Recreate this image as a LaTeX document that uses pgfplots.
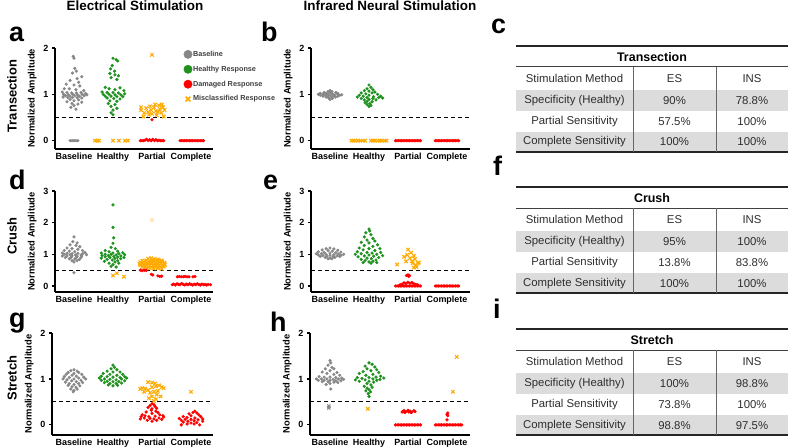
\documentclass[border=0pt]{standalone}
\usepackage{pgfplots}
\pgfplotsset{compat=1.18}
\usepackage{fontspec}
\setmainfont{Liberation Sans}

\definecolor{cgray}{RGB}{135,135,135}
\definecolor{cgreen}{RGB}{30,145,30}
\definecolor{cred}{RGB}{255,0,0}
\definecolor{corange}{RGB}{255,170,0}
\definecolor{tgray}{RGB}{220,220,220}
\definecolor{ttext}{RGB}{45,45,45}

\pgfplotsset{
  panel/.style={
    scale only axis,
    axis lines=left,
    axis line style={-, line width=1.5bp},
    xtick={0,1,2,3},
    xticklabels={Baseline,Healthy,Partial,Complete},
    xtick style={draw=none},
    ytick style={line width=1.2bp, black},
    tick align=outside,
    major tick length=3bp,
    tick label style={font=\bfseries\fontsize{9}{10}\selectfont},
    xticklabel style={yshift=3bp},
    /pgf/number format/assume math mode=true,
    ylabel={Normalized Amplitude},
    ylabel style={font=\bfseries\fontsize{9.4}{10}\selectfont},
    clip=false,
  },
  gdot/.style={only marks, mark=*, mark size=1.4bp, cgray},
  gndot/.style={only marks, mark=*, mark size=1.4bp, cgreen},
  rdot/.style={only marks, mark=*, mark size=1.4bp, cred},
  ox/.style={only marks, mark=x, mark size=2.4bp, corange, mark options={line width=1.1bp}},
  gx/.style={only marks, mark=x, mark size=2.2bp, cgray, mark options={line width=1.1bp}},
  dashline/.style={black, line width=1bp, dash pattern=on 4bp off 3bp},
}

% tabla: #1 = y de la regla superior (bp desde abajo)
\newcommand{\stab}[8]{%
\begin{scope}[shift={(0,#1)}]
  \fill[tgray] (516bp,-44bp) rectangle (788bp,-65bp);
  \fill[tgray] (516bp,-86bp) rectangle (788bp,-106bp);
  \draw[line width=1.6bp, black!85] (516bp,0) -- (788bp,0);
  \draw[line width=1.6bp, black!85] (516bp,-106bp) -- (788bp,-106bp);
  \draw[line width=1bp, black!75] (516bp,-21bp) -- (788bp,-21bp);
  \draw[line width=0.8bp, black!60] (633bp,-21bp) -- (633bp,-106bp);
  \draw[line width=0.8bp, black!60] (716bp,-21bp) -- (716bp,-106bp);
  \node[font=\bfseries\fontsize{12.5}{14}\selectfont, text=black] at (652bp,-11bp) {#2};
  \begin{scope}[every node/.style={font=\fontsize{11.4}{13}\selectfont, text=ttext}]
    \node at (574.5bp,-32.5bp) {Stimulation Method};
    \node at (674.5bp,-32.5bp) {ES};
    \node at (752bp,-32.5bp) {INS};
    \node at (574.5bp,-54.5bp) {Specificity (Healthy)};
    \node at (674.5bp,-54.5bp) {#3};
    \node at (752bp,-54.5bp) {#4};
    \node at (574.5bp,-75.5bp) {Partial Sensitivity};
    \node at (674.5bp,-75.5bp) {#5};
    \node at (752bp,-75.5bp) {#6};
    \node at (574.5bp,-96bp) {Complete Sensitivity};
    \node at (674.5bp,-96bp) {#7};
    \node at (752bp,-96bp) {#8};
  \end{scope}
\end{scope}}

\begin{document}
\begin{tikzpicture}
\path[use as bounding box] (0,0) rectangle (790bp,447bp);

% titulos de columna y filas
\node[font=\bfseries\fontsize{13.5}{15}\selectfont, anchor=base] at (135bp,436.5bp) {Electrical Stimulation};
\node[font=\bfseries\fontsize{13.5}{15}\selectfont, anchor=base] at (390bp,436.5bp) {Infrared Neural Stimulation};
\begin{scope}[every node/.style={font=\bfseries\fontsize{13}{15}\selectfont, rotate=90}]
  \node at (12bp,351bp) {Transection};
  \node at (12bp,211bp) {Crush};
  \node at (12bp,69bp) {Stretch};
\end{scope}
\begin{scope}[every node/.style={font=\bfseries\fontsize{27}{30}\selectfont, anchor=base west, inner sep=0pt}]
  \node at (9bp,405bp) {a};
  \node at (261bp,405bp) {b};
  \node at (491bp,413bp) {c};
  \node at (9bp,257bp) {d};
  \node at (263bp,257bp) {e};
  \node at (493bp,271bp) {f};
  \node at (9bp,119bp) {g};
  \node at (270bp,115bp) {h};
  \node at (493bp,128bp) {i};
\end{scope}

%% ---------------- a: ES, Transection ----------------
\begin{axis}[panel, at={(55bp,298bp)}, anchor=south west,
  width=158bp, height=101bp,
  xmin=-0.487, xmax=3.564, ymin=-0.18, ymax=2, ytick={0,1,2},
  legend style={at={(rel axis cs:0.795,1.0)}, anchor=north west, draw=none, fill=none,
    font=\bfseries\fontsize{7.3}{8}\selectfont, text=black!75, row sep=6.5bp,
    nodes={inner sep=0.8bp}},
  legend cell align=left,
  legend image code/.code={\draw[#1] plot coordinates {(0bp,0bp)};},
]
\addlegendimage{mark=*, mark size=4.2bp, cgray}
\addlegendentry{Baseline}
\addlegendimage{mark=*, mark size=4.2bp, cgreen}
\addlegendentry{Healthy Response}
\addlegendimage{mark=*, mark size=4.2bp, cred}
\addlegendentry{Damaged Response}
\addlegendimage{mark=x, mark size=3.4bp, corange, mark options={line width=1.6bp}}
\addlegendentry{Misclassified Response}

\addplot[dashline] coordinates {(-0.487,0.5) (3.564,0.5)};
\addplot[gdot] coordinates {
(-0.02,1.82)(0.00,1.78)(0.02,1.56)(0.06,1.50)(-0.04,1.46)(0.20,1.38)(0.08,1.34)(-0.10,1.30)
(0.12,1.26)(-0.20,1.22)(0.00,1.20)(0.15,1.18)(-0.25,1.12)(-0.12,1.12)(0.05,1.10)(0.25,1.08)
(-0.30,1.05)(-0.18,1.04)(-0.06,1.03)(0.06,1.03)(0.18,1.04)(0.30,1.02)(-0.27,1.00)(-0.15,0.99)
(-0.03,1.00)(0.09,0.99)(0.21,1.00)(0.33,0.99)(-0.22,0.97)(-0.10,0.96)(0.02,0.97)(0.14,0.96)
(0.26,0.97)(-0.28,0.94)(-0.16,0.93)(-0.04,0.93)(0.08,0.93)(0.20,0.92)(-0.10,0.89)(0.12,0.88)
(0.00,0.86)(-0.18,0.84)(0.20,0.83)(-0.05,0.80)(0.10,0.79)(0.00,0.76)(-0.08,0.72)(0.05,0.68)
(-0.10,0)(-0.05,0)(0.00,0)(0.05,0)(0.10,0)};
\addplot[gndot] coordinates {
(1.00,1.78)(1.08,1.75)(1.12,1.72)(0.98,1.62)(0.94,1.55)(1.04,1.50)(0.92,1.45)(1.05,1.42)
(1.14,1.40)(0.95,1.36)(1.10,1.32)(0.80,1.15)(1.18,1.14)(0.90,1.12)(1.05,1.10)(1.28,1.08)
(0.72,1.05)(0.85,1.04)(1.00,1.04)(1.14,1.03)(1.30,1.01)(0.75,1.00)(0.90,1.00)(1.05,0.99)
(1.20,0.99)(0.80,0.96)(0.95,0.96)(1.10,0.95)(1.25,0.95)(0.85,0.92)(1.02,0.91)(1.18,0.90)
(0.92,0.86)(1.10,0.85)(0.88,0.80)(1.05,0.78)(0.95,0.74)(1.10,0.70)(1.00,0.66)(0.95,0.60)(1.00,0.56)};
\addplot[rdot] coordinates {
(1.70,0)(1.74,0)(1.78,0)(1.82,0.01)(1.86,0.03)(1.90,0)(1.94,0.02)(1.98,0)(2.02,0.03)(2.06,0)
(2.10,0.02)(2.14,0)(2.18,0.01)(2.22,0)(2.26,0)(2.30,0)(2.00,0.45)
(2.72,0)(2.76,0)(2.80,0)(2.84,0)(2.88,0)(2.92,0)(2.96,0)(3.00,0)(3.04,0)(3.08,0)(3.12,0)
(3.16,0)(3.20,0)(3.24,0)(3.28,0)(3.32,0)};
\addplot[ox] coordinates {
(0.54,0)(0.60,0)(0.64,0)(1.00,0)(1.15,0)(1.31,0)(1.38,0)
(1.72,0.72)(1.72,0.66)(1.80,0.60)(1.85,0.70)(1.90,0.62)(1.92,0.56)(1.98,0.66)(2.00,0.58)
(2.05,0.72)(2.10,0.64)(2.12,0.55)(2.18,0.76)(2.20,0.68)(2.24,0.60)(2.28,0.72)(2.30,0.52)
(2.32,0.66)(1.78,0.52)(2.08,0.78)(2.15,0.62)(1.95,0.74)(2.25,0.78)(2.00,1.85)};
\end{axis}

%% ---------------- b: INS, Transection ----------------
\begin{axis}[panel, at={(311bp,298bp)}, anchor=south west,
  width=159bp, height=101bp,
  xmin=-0.487, xmax=3.59, ymin=-0.18, ymax=2, ytick={0,1,2}]
\addplot[dashline] coordinates {(-0.487,0.5) (3.59,0.5)};
\addplot[gdot] coordinates {
(0.00,1.08)(-0.05,1.06)(0.05,1.06)(-0.15,1.04)(0.00,1.04)(0.15,1.04)(-0.25,1.02)(-0.10,1.02)
(0.05,1.02)(0.20,1.02)(-0.30,1.00)(-0.18,1.00)(-0.05,1.00)(0.08,1.00)(0.20,1.00)(0.30,0.99)
(-0.25,0.98)(-0.12,0.98)(0.00,0.98)(0.12,0.98)(0.25,0.98)(-0.18,0.96)(-0.05,0.96)(0.08,0.96)
(0.20,0.96)(-0.10,0.94)(0.04,0.94)(0.14,0.94)(-0.03,0.92)(0.06,0.91)(0.00,0.89)};
\addplot[gndot] coordinates {
(1.00,1.20)(1.05,1.15)(0.95,1.12)(1.10,1.10)(0.88,1.08)(1.00,1.07)(1.15,1.05)(0.80,1.03)
(1.08,1.03)(0.92,1.01)(1.22,1.00)(0.75,0.98)(1.00,0.98)(1.30,0.96)(0.85,0.96)(1.12,0.95)
(0.70,0.94)(1.25,0.93)(0.95,0.93)(1.35,0.92)(0.80,0.91)(1.10,0.91)(1.00,0.89)(0.88,0.88)
(1.18,0.88)(0.95,0.85)(1.08,0.84)(0.90,0.82)(1.02,0.80)(0.95,0.78)(1.05,0.76)(1.00,0.74)};
\addplot[ox] coordinates {
(0.55,0)(0.60,0)(0.65,0)(0.72,0)(0.78,0)(0.84,0)(0.90,0)(1.05,0)(1.10,0)(1.15,0)
(1.22,0)(1.28,0)(1.33,0)(1.40,0)(1.45,0)};
\addplot[rdot] coordinates {
(1.68,0)(1.72,0)(1.76,0)(1.80,0)(1.84,0)(1.88,0)(1.92,0)(1.96,0)(2.00,0)(2.04,0)(2.08,0)
(2.12,0)(2.16,0)(2.20,0)(2.24,0)(2.28,0)(2.32,0)
(2.70,0)(2.74,0)(2.78,0)(2.82,0)(2.86,0)(2.90,0)(2.94,0)(2.98,0)(3.02,0)(3.06,0)(3.10,0)
(3.14,0)(3.18,0)(3.22,0)(3.26,0)(3.30,0)};
\end{axis}

%% ---------------- d: ES, Crush ----------------
\begin{axis}[panel, at={(55bp,155bp)}, anchor=south west,
  width=158bp, height=101bp,
  xmin=-0.487, xmax=3.564, ymin=-0.19, ymax=3, ytick={0,1,2,3}]
\addplot[dashline] coordinates {(-0.487,0.5) (3.564,0.5)};
\addplot[gdot] coordinates {
(0.00,1.55)(-0.03,1.40)(0.08,1.36)(-0.10,1.30)(0.05,1.28)(0.15,1.24)(-0.18,1.20)(-0.05,1.18)
(0.10,1.16)(-0.25,1.12)(0.22,1.12)(-0.12,1.10)(0.02,1.08)(0.28,1.06)(-0.30,1.04)(-0.18,1.03)
(-0.05,1.02)(0.10,1.03)(0.22,1.02)(-0.25,1.00)(-0.10,0.99)(0.04,0.98)(0.18,0.98)(0.32,0.99)
(-0.30,0.95)(-0.18,0.95)(-0.05,0.95)(0.08,0.94)(0.20,0.95)(-0.22,0.90)(-0.08,0.90)(0.06,0.90)
(0.18,0.90)(-0.12,0.86)(0.02,0.85)(0.14,0.84)(-0.05,0.80)(0.08,0.80)(0.00,0.76)(0.00,0.42)};
\addplot[gndot] coordinates {
(1.00,2.56)(1.00,1.85)(1.02,1.52)(1.00,1.35)(0.95,1.22)(1.06,1.18)(0.80,1.12)(1.12,1.10)
(0.90,1.08)(1.25,1.05)(0.70,1.04)(1.00,1.04)(1.15,1.02)(0.80,1.00)(0.95,1.00)(1.30,0.99)
(1.08,0.98)(0.72,0.96)(0.88,0.96)(1.20,0.95)(1.02,0.94)(0.80,0.92)(1.12,0.91)(1.28,0.90)
(0.92,0.90)(0.70,0.88)(1.05,0.87)(1.20,0.86)(0.85,0.84)(0.98,0.82)(1.12,0.80)(0.78,0.78)
(1.05,0.76)(0.90,0.72)(1.15,0.72)(1.00,0.68)(0.95,0.62)(1.08,0.60)};
\addplot[ox] coordinates {
(1.00,0.33)(1.10,0.40)(1.28,0.29)
(1.90,0.86)(2.05,0.85)(2.15,0.84)(1.98,0.88)
(1.75,0.80)(1.85,0.81)(1.95,0.80)(2.05,0.79)(2.15,0.80)(2.25,0.81)
(1.70,0.75)(1.78,0.76)(1.86,0.74)(1.94,0.75)(2.02,0.76)(2.10,0.74)(2.18,0.75)(2.26,0.76)(2.32,0.74)
(1.68,0.70)(1.76,0.71)(1.84,0.69)(1.92,0.70)(2.00,0.71)(2.08,0.69)(2.16,0.70)(2.24,0.71)(2.32,0.69)
(1.70,0.65)(1.78,0.64)(1.86,0.66)(1.94,0.65)(2.02,0.64)(2.10,0.66)(2.18,0.65)(2.26,0.64)(2.33,0.66)
(1.75,0.60)(1.83,0.61)(1.91,0.59)(1.99,0.60)(2.07,0.61)(2.15,0.59)(2.23,0.60)(2.30,0.61)
(1.85,0.55)(1.95,0.56)(2.05,0.55)(2.15,0.56)(2.25,0.54)};
\addplot[ox, opacity=0.35] coordinates {(2.00,2.08)};
\addplot[rdot] coordinates {
(1.70,0.50)(1.75,0.48)(1.80,0.50)(1.85,0.49)(1.98,0.37)(2.02,0.35)(2.15,0.32)(2.20,0.30)(2.25,0.31)
(2.52,0.04)(2.56,0.06)(2.60,0.03)(2.64,0.07)(2.68,0.05)(2.72,0.04)(2.76,0.08)(2.80,0.05)
(2.84,0.03)(2.88,0.06)(2.92,0.04)(2.96,0.07)(3.00,0.05)(3.04,0.03)(3.08,0.06)(3.12,0.04)
(3.16,0.07)(3.20,0.05)(3.24,0.03)(3.28,0.06)(3.32,0.04)(3.36,0.05)(3.40,0.03)(3.44,0.05)(3.50,0.04)
(2.65,0.29)(2.70,0.30)(2.75,0.29)(2.80,0.29)(2.85,0.30)(2.90,0.29)(2.95,0.29)(3.05,0.29)(3.10,0.30)};
\end{axis}

%% ---------------- e: INS, Crush ----------------
\begin{axis}[panel, at={(311bp,155bp)}, anchor=south west,
  width=159bp, height=101bp,
  xmin=-0.487, xmax=3.59, ymin=-0.19, ymax=3, ytick={0,1,2,3}]
\addplot[dashline] coordinates {(-0.487,0.5) (3.59,0.5)};
\addplot[gdot] coordinates {
(0.00,1.20)(-0.10,1.18)(0.10,1.17)(-0.20,1.14)(0.20,1.13)(-0.05,1.12)(0.06,1.10)(-0.30,1.08)
(0.28,1.07)(-0.15,1.06)(0.15,1.05)(0.00,1.04)(-0.35,1.02)(-0.22,1.02)(0.22,1.01)(0.35,1.00)
(-0.10,1.00)(0.10,0.99)(-0.30,0.98)(0.00,0.97)(0.28,0.97)(-0.18,0.96)(0.18,0.95)(-0.08,0.94)
(0.08,0.93)(-0.25,0.93)(0.25,0.93)(-0.12,0.90)(0.12,0.90)(0.00,0.88)(-0.05,0.86)(0.05,0.86)};
\addplot[gndot] coordinates {
(1.00,1.80)(1.02,1.74)(0.92,1.68)(1.05,1.62)(0.88,1.55)(1.10,1.50)(0.95,1.45)(1.15,1.42)
(0.80,1.38)(1.00,1.36)(1.22,1.30)(0.88,1.28)(1.10,1.25)(0.75,1.20)(1.28,1.18)(1.00,1.18)
(0.85,1.14)(1.15,1.12)(0.70,1.08)(1.30,1.06)(0.95,1.06)(1.08,1.04)(0.80,1.02)(1.20,1.00)
(0.65,1.00)(1.00,0.98)(1.35,0.96)(0.88,0.95)(1.12,0.94)(0.72,0.92)(1.25,0.90)(0.95,0.88)
(1.06,0.86)(0.80,0.84)(1.18,0.82)(0.90,0.80)(1.10,0.78)(1.00,0.76)(0.85,0.74)(1.20,0.74)(1.05,0.72)};
\addplot[ox] coordinates {
(1.72,0.68)(1.90,0.92)(1.98,0.98)(2.00,1.15)(2.05,0.88)(2.10,0.78)(2.12,0.72)(2.18,0.85)
(2.20,0.66)(2.25,0.72)(2.22,0.60)(2.15,0.58)(1.95,0.78)(2.28,0.74)(2.08,1.05)(2.15,0.95)};
\addplot[rdot] coordinates {
(1.68,0)(1.72,0)(1.76,0)(1.80,0)(1.84,0)(1.88,0)(1.92,0)(1.96,0)(2.00,0)(2.04,0)(2.08,0)
(2.12,0)(2.16,0)(2.20,0)(2.24,0)(2.28,0)(2.32,0)
(1.85,0.06)(1.90,0.10)(1.95,0.08)(2.00,0.12)(2.05,0.09)(2.10,0.11)(2.15,0.07)(2.20,0.05)
(1.80,0.04)(2.25,0.04)(1.96,0.33)(2.00,0.35)(2.04,0.33)(2.02,0.30)
(2.70,0)(2.74,0)(2.78,0)(2.82,0)(2.86,0)(2.90,0)(2.94,0)(2.98,0)(3.02,0)(3.06,0)(3.10,0)
(3.14,0)(3.18,0)(3.22,0)(3.26,0)(3.30,0)};
\end{axis}

%% ---------------- g: ES, Stretch ----------------
\begin{axis}[panel, at={(52bp,12bp)}, anchor=south west,
  width=161bp, height=102bp,
  xmin=-0.564, xmax=3.564, ymin=-0.22, ymax=2, ytick={0,1,2}]
\addplot[dashline] coordinates {(-0.564,0.5) (3.564,0.5)};
\addplot[gdot] coordinates {
(0.00,1.20)(-0.08,1.18)(0.08,1.17)(-0.15,1.14)(0.12,1.14)(0.00,1.12)(-0.20,1.10)(0.20,1.10)
(-0.05,1.08)(0.06,1.06)(-0.25,1.05)(0.25,1.04)(-0.12,1.03)(0.12,1.02)(0.00,1.00)(-0.28,1.00)
(0.30,1.00)(-0.18,0.98)(0.18,0.97)(-0.06,0.96)(0.06,0.94)(-0.22,0.93)(0.22,0.92)(-0.12,0.90)
(0.12,0.90)(0.00,0.88)(-0.15,0.86)(0.15,0.85)(-0.05,0.83)(0.05,0.82)(-0.08,0.78)(0.08,0.78)
(0.00,0.75)(-0.02,0.72)};
\addplot[gndot] coordinates {
(1.00,1.30)(1.04,1.25)(0.95,1.22)(1.10,1.20)(0.85,1.17)(1.18,1.15)(1.00,1.15)(0.75,1.12)
(1.25,1.10)(0.92,1.10)(1.10,1.08)(0.70,1.06)(1.30,1.05)(0.85,1.05)(1.00,1.04)(1.18,1.03)
(0.65,1.02)(1.35,1.02)(0.78,1.00)(1.22,1.00)(0.92,0.99)(1.08,0.98)(0.70,0.97)(1.30,0.96)
(0.85,0.95)(1.15,0.94)(1.00,0.94)(0.78,0.92)(1.22,0.91)(0.92,0.90)(1.08,0.90)(0.88,0.87)
(1.12,0.86)(1.00,0.85)};
\addplot[ox] coordinates {
(1.90,0.93)(2.00,0.92)(2.08,0.90)(1.75,0.80)(1.70,0.78)(1.82,0.79)(1.90,0.76)(2.00,0.82)
(2.10,0.84)(2.18,0.86)(2.25,0.82)(2.30,0.80)(1.95,0.70)(2.05,0.72)(2.15,0.74)(1.80,0.72)
(2.12,0.66)(2.22,0.62)(2.00,0.62)(1.92,0.58)(2.10,0.56)(2.05,0.52)(3.00,0.72)};
\addplot[rdot] coordinates {
(2.00,0.46)(2.05,0.44)(1.95,0.42)(2.08,0.40)(1.90,0.38)(2.12,0.36)(2.00,0.35)(1.98,0.32)
(2.10,0.30)(1.85,0.28)(2.15,0.27)(2.00,0.25)(1.75,0.22)(1.82,0.20)(2.20,0.22)(2.28,0.20)
(1.72,0.18)(1.92,0.18)(2.08,0.19)(2.30,0.17)(1.80,0.15)(2.18,0.15)(1.95,0.14)(2.05,0.13)
(1.88,0.10)(2.12,0.10)(2.00,0.08)(2.25,0.12)(1.70,0.13)
(3.10,0.30)(3.05,0.27)(3.15,0.26)(2.95,0.24)(3.20,0.22)(3.00,0.20)(2.80,0.18)(3.25,0.18)
(2.90,0.16)(3.10,0.15)(2.70,0.14)(3.30,0.13)(2.85,0.12)(3.00,0.12)(3.18,0.11)(2.75,0.10)
(3.08,0.09)(2.92,0.08)(3.30,0.08)(2.80,0.06)(3.15,0.05)(3.00,0.04)(2.90,0.02)(3.08,0.02)
(2.75,0.00)(3.22,0.00)};
\end{axis}

%% ---------------- h: INS, Stretch ----------------
\begin{axis}[panel, at={(310bp,12bp)}, anchor=south west,
  width=160bp, height=102bp,
  xmin=-0.513, xmax=3.59, ymin=-0.22, ymax=2, ytick={0,1,2}]
\addplot[dashline] coordinates {(-0.513,0.5) (3.59,0.5)};
\addplot[gdot] coordinates {
(0.00,1.40)(0.02,1.35)(-0.05,1.30)(0.05,1.25)(0.10,1.22)(-0.12,1.22)(0.00,1.18)(-0.20,1.15)
(0.18,1.14)(-0.08,1.12)(0.10,1.10)(0.25,1.08)(-0.28,1.05)(-0.15,1.04)(0.00,1.04)(0.15,1.03)
(0.30,1.02)(-0.35,1.00)(-0.22,1.00)(-0.08,1.00)(0.08,0.99)(0.22,1.00)(0.35,0.99)(-0.30,0.97)
(-0.15,0.97)(0.00,0.97)(0.15,0.96)(0.28,0.96)(-0.20,0.94)(-0.05,0.94)(0.10,0.93)(0.20,0.92)
(0.00,0.90)(-0.10,0.88)(0.02,0.78)};
\addplot[gx] coordinates {(-0.03,0.41)(-0.03,0.37)};
\addplot[gndot] coordinates {
(1.00,1.35)(1.08,1.32)(0.90,1.28)(1.15,1.26)(0.95,1.22)(1.20,1.20)(1.05,1.18)(0.85,1.16)
(1.25,1.14)(0.75,1.12)(1.10,1.10)(0.92,1.08)(1.30,1.06)(1.18,1.04)(0.70,1.03)(1.00,1.03)
(1.38,1.02)(0.82,1.01)(1.10,1.00)(1.28,0.99)(0.65,0.98)(0.90,0.98)(1.20,0.97)(1.00,0.95)
(0.75,0.95)(1.12,0.93)(0.95,0.90)(1.05,0.87)(0.88,0.84)(1.08,0.82)(0.95,0.80)(1.00,0.77)
(0.92,0.74)(1.04,0.72)(0.98,0.68)(1.00,0.62)};
\addplot[ox] coordinates {(0.97,0.35)(3.25,1.48)(3.15,0.72)};
\addplot[rdot] coordinates {
(1.68,0)(1.72,0)(1.76,0)(1.80,0)(1.84,0)(1.88,0)(1.92,0)(1.96,0)(2.00,0)(2.04,0)(2.08,0)
(2.12,0)(2.16,0)(2.20,0)(2.24,0)(2.28,0)(2.32,0)
(1.85,0.28)(1.90,0.31)(1.95,0.29)(2.00,0.32)(2.05,0.30)(2.10,0.28)(2.15,0.31)(1.92,0.27)
(2.08,0.27)(2.18,0.29)(1.88,0.30)(2.02,0.28)
(2.70,0)(2.74,0)(2.78,0)(2.82,0)(2.86,0)(2.90,0)(2.94,0)(2.98,0)(3.02,0)(3.06,0)(3.10,0)
(3.14,0)(3.18,0)(3.22,0)(3.26,0)(3.30,0)(3.34,0)(3.38,0)
(3.02,0.26)(3.00,0.23)(3.02,0.20)(3.00,0.11)};
\end{axis}

%% ---------------- tablas c, f, i ----------------
\stab{401bp}{Transection}{90\%}{78.8\%}{57.5\%}{100\%}{100\%}{100\%}
\stab{259.7bp}{Crush}{95\%}{100\%}{13.8\%}{83.8\%}{100\%}{100\%}
\stab{117.7bp}{Stretch}{100\%}{98.8\%}{73.8\%}{100\%}{98.8\%}{97.5\%}

\end{tikzpicture}
\end{document}
